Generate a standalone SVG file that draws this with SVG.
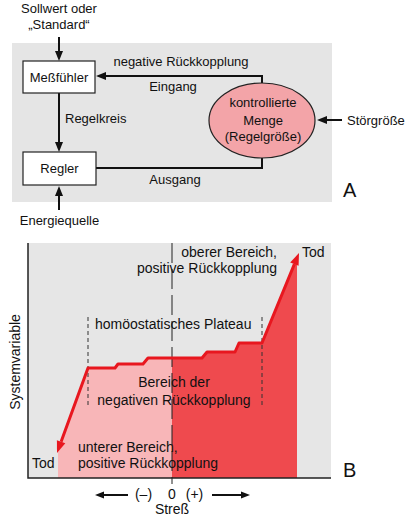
<svg xmlns="http://www.w3.org/2000/svg" width="410" height="518" viewBox="0 0 410 518">
<style>
text{font-family:"Liberation Sans",Arial,sans-serif;fill:#111}
.a{font-size:13px}
.b{font-size:14px}
.m{text-anchor:middle}
.e{text-anchor:end}
.big{font-size:20px}
.box{fill:#fff;stroke:#222;stroke-width:1.2}
.ln{fill:none;stroke:#111;stroke-width:2}
.ah{fill:#111}
.dash{fill:none;stroke:#333;stroke-width:1;stroke-dasharray:4 3}
</style>
<rect width="410" height="518" fill="#fff"/>
<!-- Panel A -->
<rect id="panelA" x="12" y="43" width="320" height="159" fill="#e5e5e5"/>
<g id="connectors">
  <line class="ln" x1="59" y1="37" x2="59" y2="53"/>
  <polygon class="ah" points="59,61 55,51 63,51"/>
  <line class="ln" x1="59" y1="93" x2="59" y2="144"/>
  <polygon class="ah" points="59,152 55,142 63,142"/>
  <line class="ln" x1="59" y1="210" x2="59" y2="194"/>
  <polygon class="ah" points="59,186 55,196 63,196"/>
  <polyline class="ln" points="262,83 262,76 104,76"/>
  <polygon class="ah" points="96,76 106,72 106,80"/>
  <polyline class="ln" points="262,158 262,168 96,168"/>
  <line class="ln" x1="342" y1="120" x2="325" y2="120"/>
  <polygon class="ah" points="317,120 327,116 327,124"/>
</g>
<g id="sollwert">
  <text class="a m" x="59" y="13">Sollwert oder</text>
  <text class="a m" x="59" y="29">„Standard“</text>
</g>
<g id="messfuehler">
  <rect class="box" x="23" y="61" width="72" height="32"/>
  <text class="a m" x="59" y="81.5">Meßfühler</text>
</g>
<g id="regler">
  <rect class="box" x="23" y="152" width="73" height="33"/>
  <text class="a m" x="59.5" y="173">Regler</text>
</g>
<g id="energie">
  <text class="a m" x="59.5" y="225">Energiequelle</text>
</g>
<g id="labelsA">
  <text class="a m" x="181" y="66">negative Rückkopplung</text>
  <text class="a m" x="173" y="91">Eingang</text>
  <text class="a" x="65" y="123">Regelkreis</text>
  <text class="a m" x="175" y="184">Ausgang</text>
</g>
<g id="menge">
  <ellipse cx="262" cy="120.5" rx="53" ry="37.5" fill="#f3a4a8" stroke="#222" stroke-width="1.2"/>
  <text class="a m" x="263" y="107">kontrollierte</text>
  <text class="a m" x="263" y="124.5">Menge</text>
  <text class="a m" x="263" y="141">(Regelgröße)</text>
</g>
<g id="stoer">
  <text class="a" x="347" y="125">Störgröße</text>
</g>
<text class="big" x="343" y="197">A</text>
<!-- Panel B -->
<g id="panelB">
  <rect x="28" y="243" width="303" height="235" fill="#e6e6e6"/>
  <polygon fill="#f8b6b8" points="58,478 58,450 88,368 115,368 118,364 143,364 148,358 172,358 172,478"/>
  <polygon fill="#ef4a4e" points="172,478 172,358 202,358 207,352 235,352 239,343 262,343 297,258 297,478"/>
  <line x1="172" y1="243" x2="172" y2="478" stroke="#222" stroke-width="1" stroke-dasharray="20 6"/>
  <line x1="172" y1="478" x2="172" y2="484" stroke="#222" stroke-width="1"/>
  <line class="dash" x1="88" y1="317" x2="88" y2="406"/>
  <line class="dash" x1="262" y1="317" x2="262" y2="406"/>
  <polyline fill="none" stroke="#e8171f" stroke-width="3" stroke-linejoin="round" points="61.1,441.7 88,368 115,368 118,364 143,364 148,358 202,358 207,352 235,352 239,343 262,343 294.4,264.1"/>
  <polygon fill="#e8171f" points="57,453 65.3,443.3 56.9,440.2"/>
  <polygon fill="#e8171f" points="299,253 298.6,265.8 290.2,262.4"/>
  <polyline fill="none" stroke="#222" stroke-width="1.5" points="28,243 28,478 331,478"/>
</g>
<g id="labelsB">
  <text class="b e" x="277" y="257">oberer Bereich,</text>
  <text class="b e" x="277" y="273">positive Rückkopplung</text>
  <text class="b" x="302" y="257">Tod</text>
  <text class="b" x="95" y="329">homöostatisches Plateau</text>
  <text class="b m" x="174" y="387">Bereich der</text>
  <text class="b m" x="174" y="405">negativen Rückkopplung</text>
  <text class="b" x="78" y="452">unterer Bereich,</text>
  <text class="b" x="78" y="468">positive Rückkopplung</text>
  <text class="b" x="32" y="468">Tod</text>
  <text class="b m" transform="translate(20,362) rotate(-90)">Systemvariable</text>
</g>
<g id="stress">
  <line class="ln" x1="128" y1="495" x2="103" y2="495" stroke-width="1.5"/>
  <polygon class="ah" points="95,495 104,491.5 104,498.5"/>
  <line class="ln" x1="212" y1="495" x2="242" y2="495" stroke-width="1.5"/>
  <polygon class="ah" points="250,495 241,491.5 241,498.5"/>
  <text class="b m" x="143.5" y="499">(–)</text>
  <text class="b m" x="172" y="499">0</text>
  <text class="b m" x="194.5" y="499">(+)</text>
  <text class="b m" x="172" y="514">Streß</text>
</g>
<text class="big" x="343" y="477">B</text>
</svg>
